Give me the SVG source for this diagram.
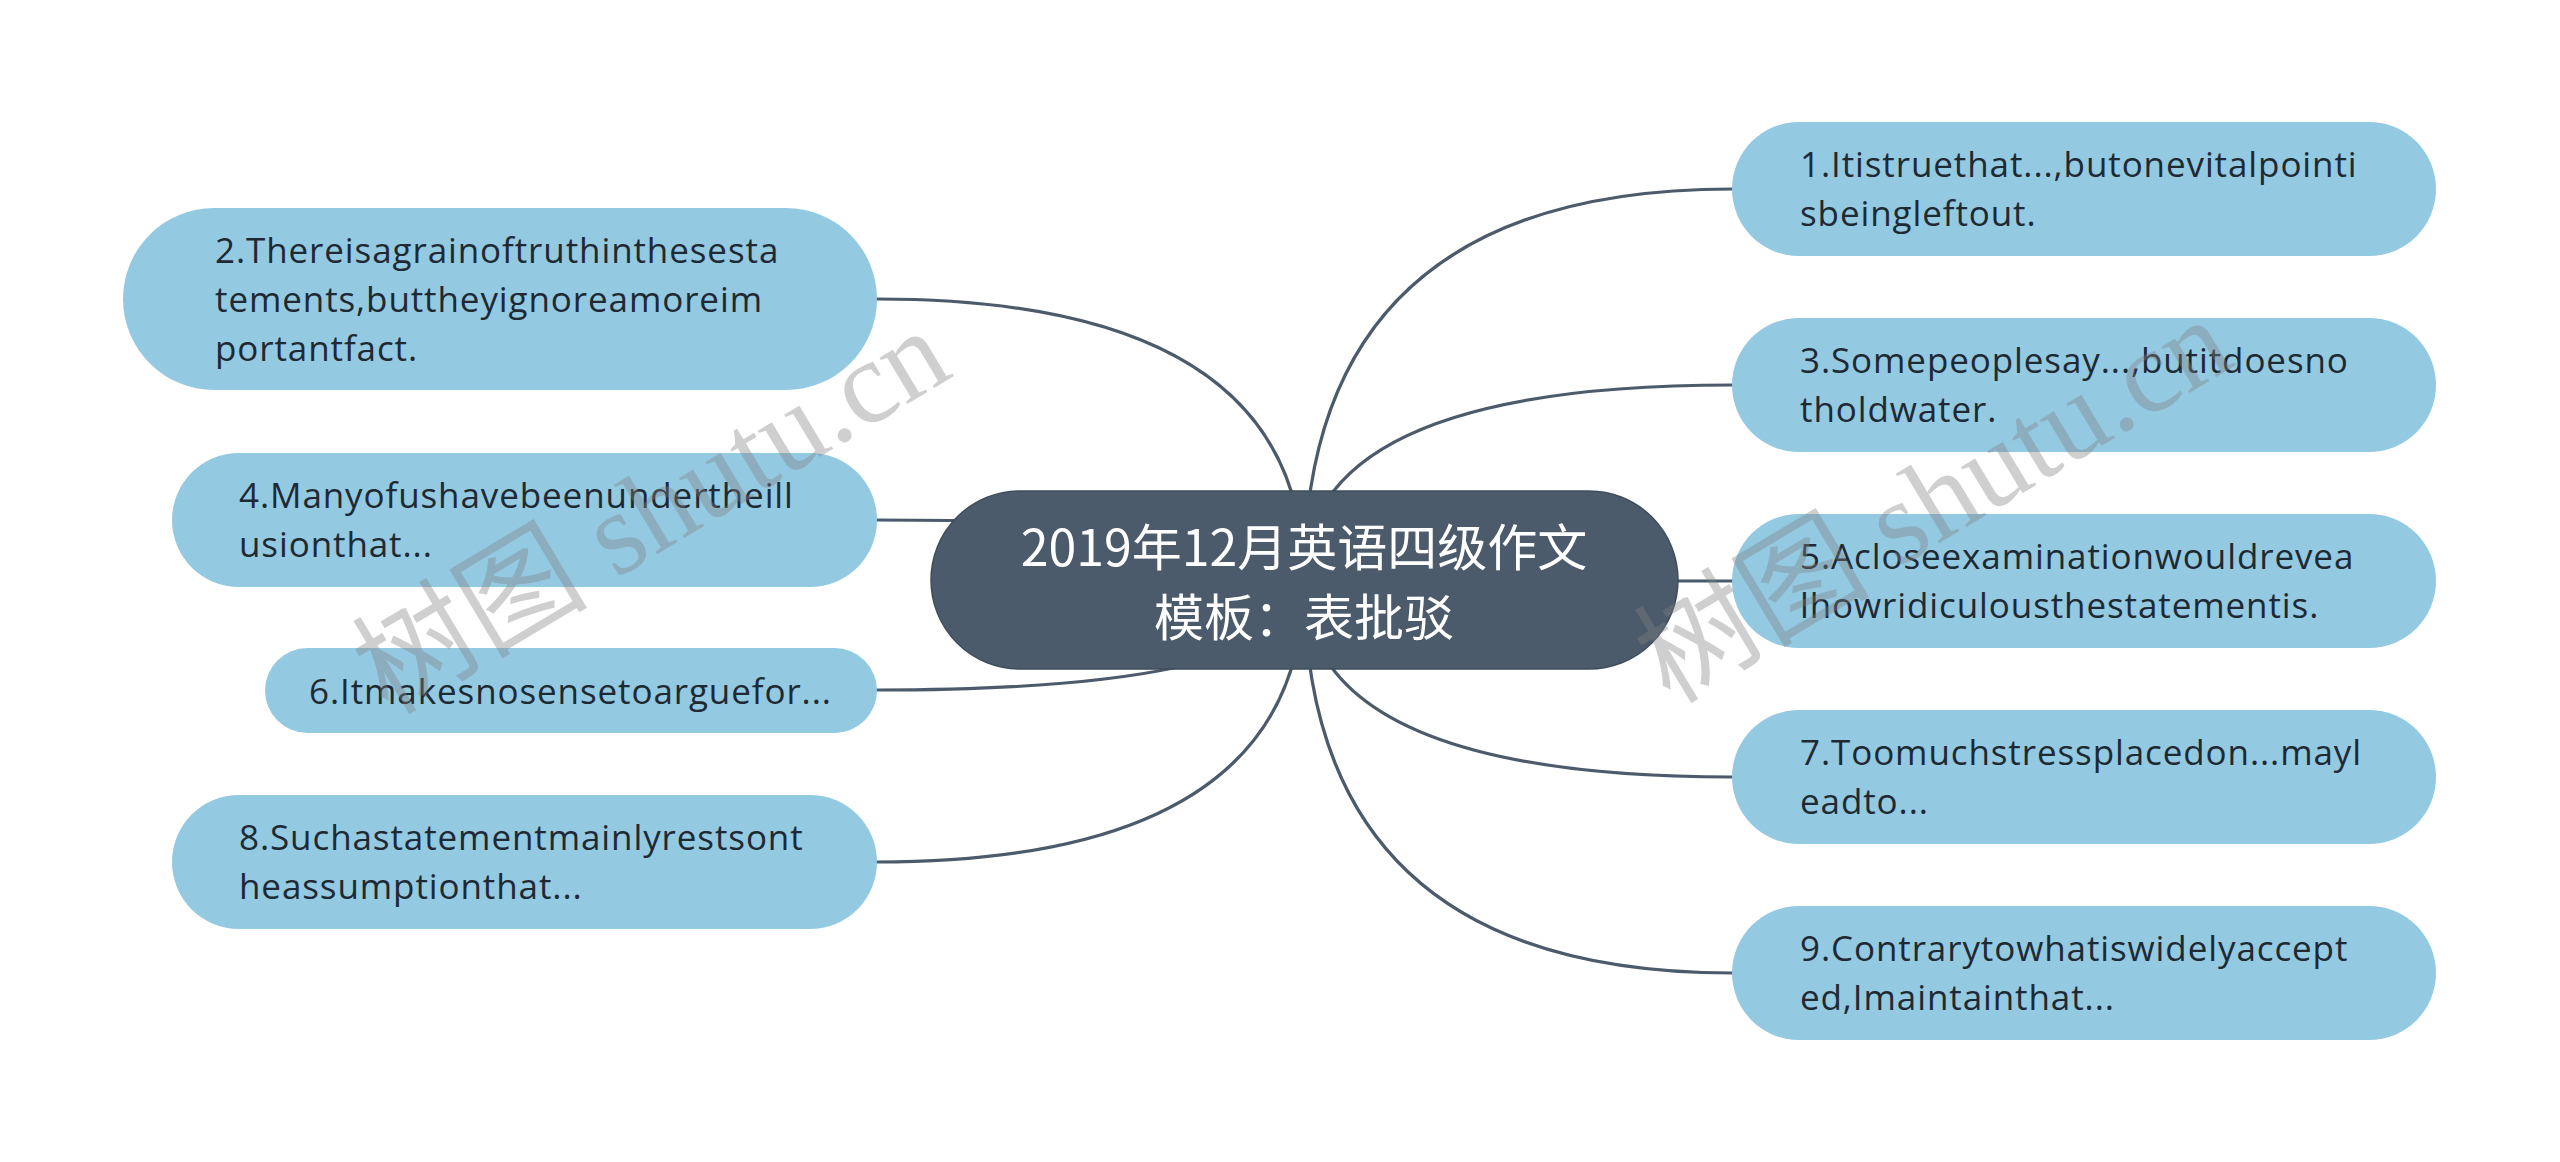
<svg xmlns="http://www.w3.org/2000/svg" width="2560" height="1162" viewBox="0 0 2560 1162">
<defs>
<style>
.bg{fill:#ffffff}
.conn path{fill:none;stroke:#4b5b6b;stroke-width:3.2;stroke-linecap:round}
.leaf rect{fill:#94c9e2}
.leaf text{font-family:"Open Sans","Noto Sans",sans-serif;font-size:35px;letter-spacing:0.9px;fill:#1e2933}
.root rect{fill:#4b5b6b;stroke:#3f4e5c;stroke-width:1.5}
.root text{font-family:"Noto Sans CJK SC","Noto Sans",sans-serif;font-size:50px;fill:#ffffff;text-anchor:middle}
.wm{font-family:"Liberation Serif","Noto Sans CJK SC",serif;font-size:118px;fill:#808080;fill-opacity:0.38}
</style>
</defs>
<rect class="bg" x="0" y="0" width="2560" height="1162"/>
<g id="connectors" class="conn">
<path d="M1304 580 Q1304 189 1732 189"/>
<path d="M1304 580 Q1304 385 1732 385"/>
<path d="M1304 580 Q1304 581 1732 581"/>
<path d="M1304 580 Q1304 777 1732 777"/>
<path d="M1304 580 Q1304 973 1732 973"/>
<path d="M1304 580 Q1304 299 877 299"/>
<path d="M1304 580 Q1304 520 877 520"/>
<path d="M1304 580 Q1304 690 877 690"/>
<path d="M1304 580 Q1304 862 877 862"/>
</g>
<g id="root" class="root">
<rect x="931" y="491" width="747" height="178" rx="89"/>
<text x="1304" y="566">2019年12月英语四级作文</text>
<text x="1304" y="636">模板：表批驳</text>
</g>
<g id="n1" class="leaf">
<rect x="1732" y="122" width="704" height="134" rx="67"/>
<text x="1800" y="177">1.Itistruethat...,butonevitalpointi</text>
<text x="1800" y="226">sbeingleftout.</text>
</g>
<g id="n3" class="leaf">
<rect x="1732" y="318" width="704" height="134" rx="67"/>
<text x="1800" y="373">3.Somepeoplesay...,butitdoesno</text>
<text x="1800" y="422">tholdwater.</text>
</g>
<g id="n5" class="leaf">
<rect x="1732" y="514" width="704" height="134" rx="67"/>
<text x="1800" y="569">5.Acloseexaminationwouldrevea</text>
<text x="1800" y="618">lhowridiculousthestatementis.</text>
</g>
<g id="n7" class="leaf">
<rect x="1732" y="710" width="704" height="134" rx="67"/>
<text x="1800" y="765">7.Toomuchstressplacedon...mayl</text>
<text x="1800" y="814">eadto...</text>
</g>
<g id="n9" class="leaf">
<rect x="1732" y="906" width="704" height="134" rx="67"/>
<text x="1800" y="961">9.Contrarytowhatiswidelyaccept</text>
<text x="1800" y="1010">ed,Imaintainthat...</text>
</g>
<g id="n2" class="leaf">
<rect x="123" y="208" width="754" height="182" rx="91"/>
<text x="215" y="263">2.Thereisagrainoftruthinthesesta</text>
<text x="215" y="312">tements,buttheyignoreamoreim</text>
<text x="215" y="361">portantfact.</text>
</g>
<g id="n4" class="leaf">
<rect x="172" y="453" width="705" height="134" rx="67"/>
<text x="239" y="508">4.Manyofushavebeenundertheill</text>
<text x="239" y="557">usionthat...</text>
</g>
<g id="n6" class="leaf">
<rect x="265" y="648" width="612" height="85" rx="42.5"/>
<text x="309" y="704">6.Itmakesnosensetoarguefor...</text>
</g>
<g id="n8" class="leaf">
<rect x="172" y="795" width="705" height="134" rx="67"/>
<text x="239" y="850">8.Suchastatementmainlyrestsont</text>
<text x="239" y="899">heassumptionthat...</text>
</g>
<g id="watermarks">
<text class="wm" transform="translate(388 716) rotate(-31)">树图 shutu.cn</text>
<text class="wm" transform="translate(1670 705) rotate(-31)">树图 shutu.cn</text>
</g>
</svg>
